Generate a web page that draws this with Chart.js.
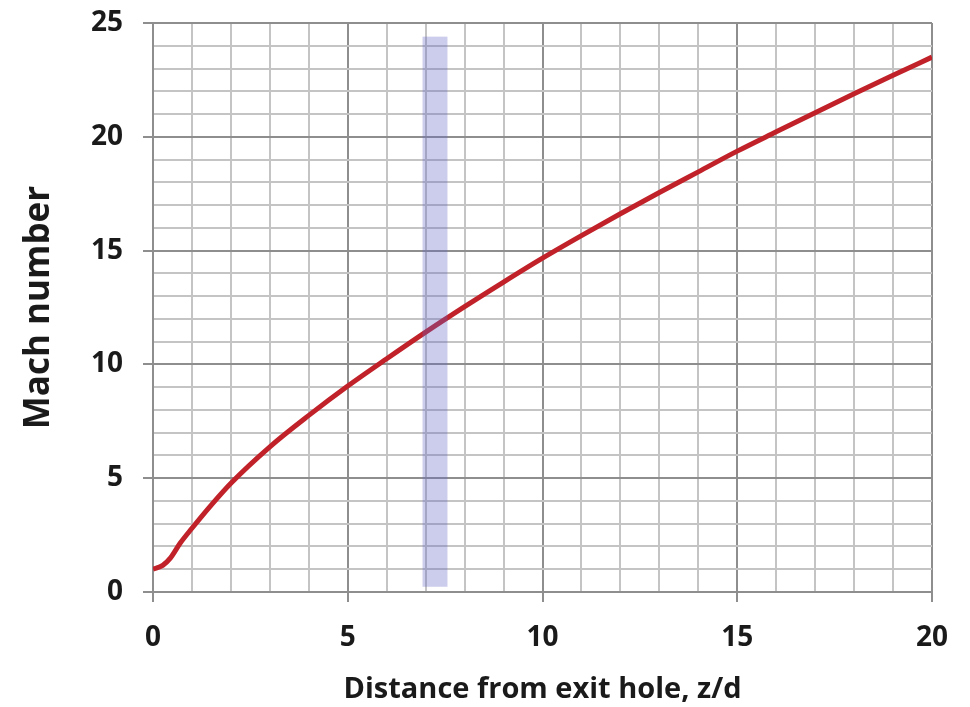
<!DOCTYPE html>
<html>
<head>
<meta charset="utf-8">
<script src="https://cdn.jsdelivr.net/npm/chart.js@4/dist/chart.umd.min.js"></script>
<style>
  html, body { margin: 0; padding: 0; background: #fff; }
  #wrap { width: 970px; height: 707px; }
</style>
</head>
<body>
<div id="wrap"><canvas id="machChart" width="970" height="707"></canvas></div>
<script>
// distance from exit hole (z/d) and Mach number
const zd = [0, 0.25, 0.45, 0.7, 1, 1.5, 2, 3, 4, 5, 6, 7, 8, 9, 10, 11, 12, 13, 14, 15, 16, 17, 18, 19, 20];
const mach = [1.0, 1.17, 1.5, 2.15, 2.8, 3.83, 4.78, 6.38, 7.76, 9.05, 10.25, 11.42, 12.54, 13.62, 14.67, 15.66, 16.62, 17.55, 18.46, 19.37, 20.22, 21.06, 21.89, 22.7, 23.5];

// shaded band
const bandX = [6.92, 7.56];
const bandY = [0.23, 24.4];

const xRange = [0, 20];
const yRange = [0, 25];
const majorEvery = 5;

const MAJOR = '#8e8e8e';
const MINOR = '#c4c4c4';
const FONT = "'Open Sans', 'DejaVu Sans', sans-serif";

const isMajor = v => Math.abs(v % majorEvery) < 1e-9;

const bandPlugin = {
  id: 'band',
  afterDatasetsDraw(chart) {
    const { ctx, scales: { x, y } } = chart;
    const x0 = x.getPixelForValue(bandX[0]);
    const x1 = x.getPixelForValue(bandX[1]);
    const y0 = y.getPixelForValue(bandY[1]);
    const y1 = y.getPixelForValue(bandY[0]);
    ctx.save();
    ctx.fillStyle = 'rgba(100, 100, 200, 0.33)';
    ctx.fillRect(x0, y0, x1 - x0, y1 - y0);
    ctx.restore();
  }
};

const gridOpts = {
  color: c => isMajor(c.tick.value) ? MAJOR : MINOR,
  lineWidth: 2,
  tickColor: c => isMajor(c.tick.value) ? MAJOR : 'rgba(0,0,0,0)',
  tickLength: 10,
  drawTicks: true
};

new Chart(document.getElementById('machChart').getContext('2d'), {
  type: 'line',
  data: {
    datasets: [{
      data: zd.map((v, i) => ({ x: v, y: mach[i] })),
      borderColor: '#c1222a',
      borderWidth: 5,
      pointRadius: 0,
      cubicInterpolationMode: 'monotone',
      fill: false
    }]
  },
  options: {
    responsive: false,
    animation: false,
    layout: { padding: { left: 0, top: 23, right: 38, bottom: 0 } },
    plugins: { legend: { display: false }, tooltip: { enabled: false } },
    scales: {
      x: {
        type: 'linear',
        min: xRange[0],
        max: xRange[1],
        afterFit: s => { s.height = 115; },
        grid: gridOpts,
        border: { color: MAJOR, width: 2 },
        ticks: {
          stepSize: 1,
          autoSkip: false,
          maxRotation: 0,
          padding: 19,
          color: '#1a1a1a',
          font: { family: FONT, size: 28, weight: 'bold' },
          callback: v => isMajor(v) ? String(v) : ''
        },
        title: {
          display: true,
          text: 'Distance from exit hole, z/d',
          color: '#1a1a1a',
          font: { family: FONT, size: 29, weight: 'bold' },
          padding: { top: 0, bottom: 0 }
        }
      },
      y: {
        type: 'linear',
        min: yRange[0],
        max: yRange[1],
        afterFit: s => { s.width = 153; s.paddingTop = 0; s.paddingBottom = 0; },
        grid: gridOpts,
        border: { color: MAJOR, width: 2 },
        ticks: {
          stepSize: 1,
          autoSkip: false,
          padding: 20,
          color: '#1a1a1a',
          font: { family: FONT, size: 28, weight: 'bold' },
          callback: v => isMajor(v) ? String(v) : ''
        },
        title: {
          display: true,
          text: 'Mach number',
          color: '#1a1a1a',
          font: { family: FONT, size: 35, weight: 'bold' },
          padding: { top: 18, bottom: 0 }
        }
      }
    }
  },
  plugins: [bandPlugin]
});
</script>
</body>
</html>
